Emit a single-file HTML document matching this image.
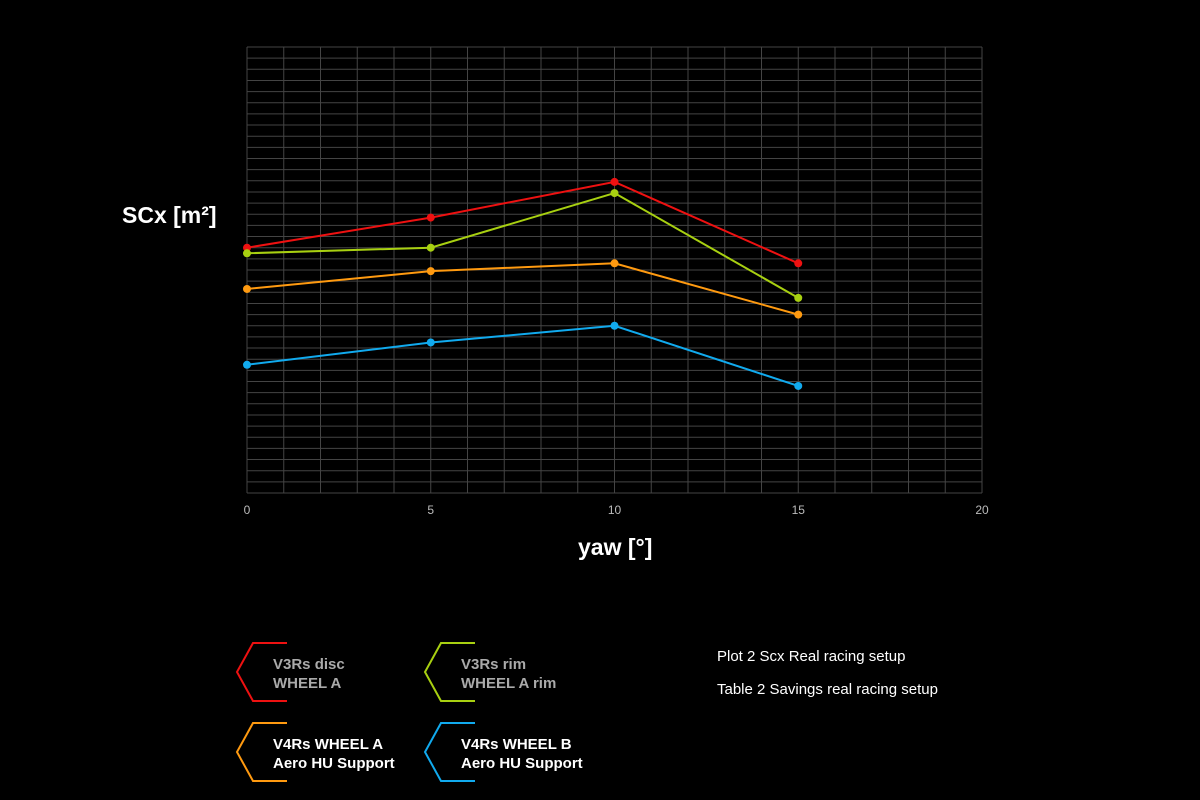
<!DOCTYPE html>
<html><head><meta charset="utf-8"><style>
html,body{margin:0;padding:0;background:#000;width:1200px;height:800px;overflow:hidden}
svg{display:block;font-family:"Liberation Sans",sans-serif}
</style></head><body>
<svg id="chart" width="1200" height="800">
<rect width="1200" height="800" fill="#000"/>
<g id="grid"></g>
<g id="xticks"></g>
<g id="series"></g>
<text x="122" y="223" fill="#fff" font-size="23" font-weight="bold">SCx [m²]</text>
<text x="578" y="555" fill="#fff" font-size="23" font-weight="bold">yaw [°]</text>
<g id="legend"></g>
<text x="717" y="661" fill="#fff" font-size="15">Plot 2 Scx Real racing setup</text>
<text x="717" y="694" fill="#fff" font-size="15">Table 2 Savings real racing setup</text>
</svg>
<script>
const xValues = [0, 5, 10, 15];
const xTicks = [0, 5, 10, 15, 20];
const seriesNames = ["V3Rs disc WHEEL A", "V3Rs rim WHEEL A rim", "V4Rs WHEEL A Aero HU Support", "V4Rs WHEEL B Aero HU Support"];
const redValues = [22.0, 24.7, 27.9, 20.6];
const greenValues = [21.5, 22.0, 26.9, 17.5];
const orangeValues = [18.3, 19.9, 20.6, 16.0];
const blueValues = [11.5, 13.5, 15.0, 9.6];

const NS = "http://www.w3.org/2000/svg";
const L = 247, R = 982, T = 47, B = 493;
const xMax = 20, yMax = 40;
const xs = v => L + (R - L) * v / xMax;
const ys = v => B - (B - T) * v / yMax;
function mk(tag, attrs, parent) {
  const e = document.createElementNS(NS, tag);
  for (const k in attrs) e.setAttribute(k, attrs[k]);
  parent.appendChild(e);
  return e;
}
const grid = document.getElementById('grid');
for (let i = 0; i <= xMax; i++) {
  const l = mk('line', {x1: xs(i), x2: xs(i), y1: T, y2: B, stroke: '#444', 'stroke-width': 1}, grid);
  
  
}
for (let j = 0; j <= yMax; j++) {
  const l = mk('line', {x1: L, x2: R, y1: ys(j), y2: ys(j), stroke: '#444', 'stroke-width': 1}, grid);
  
  
}
const xt = document.getElementById('xticks');
xTicks.forEach(t => {
  const tx = mk('text', {x: xs(t), y: 514, fill: '#bbb', 'font-size': 12, 'text-anchor': 'middle'}, xt);
  tx.textContent = t;
  
  
});
const colors = ['#ee1111', '#a8d011', '#ff9a10', '#11aaee'];
const allSeries = [redValues, greenValues, orangeValues, blueValues];
const sg = document.getElementById('series');
allSeries.forEach((vals, si) => {
  const pts = vals.map((v, i) => xs(xValues[i]) + ',' + ys(v)).join(' ');
  const pl = mk('polyline', {points: pts, fill: 'none', stroke: colors[si], 'stroke-width': 2}, sg);
  
  
  vals.forEach((v, i) => {
    const c = mk('circle', {cx: xs(xValues[i]), cy: ys(v), r: 4, fill: colors[si]}, sg);
    
    
  });
});
const lg = document.getElementById('legend');
const pos = [[237, 643], [425, 643], [237, 723], [425, 723]];
const lines = [["V3Rs disc", "WHEEL A"], ["V3Rs rim", "WHEEL A rim"], ["V4Rs WHEEL A", "Aero HU Support"], ["V4Rs WHEEL B", "Aero HU Support"]];
const textCol = ['#aaa', '#aaa', '#fff', '#fff'];
pos.forEach((p, i) => {
  const [x, y] = p;
  const g = mk('g', {}, lg);
  
  
  mk('polyline', {points: `${x+50},${y} ${x+16},${y} ${x},${y+29} ${x+16},${y+58} ${x+50},${y+58}`, fill: 'none', stroke: colors[i], 'stroke-width': 2}, g);
  lines[i].forEach((s, k) => {
    const t = mk('text', {x: x + 36, y: y + 26 + k * 19, fill: textCol[i], 'font-size': 15, 'font-weight': 'bold'}, g);
    t.textContent = s;
  });
});
</script>
</body></html>
